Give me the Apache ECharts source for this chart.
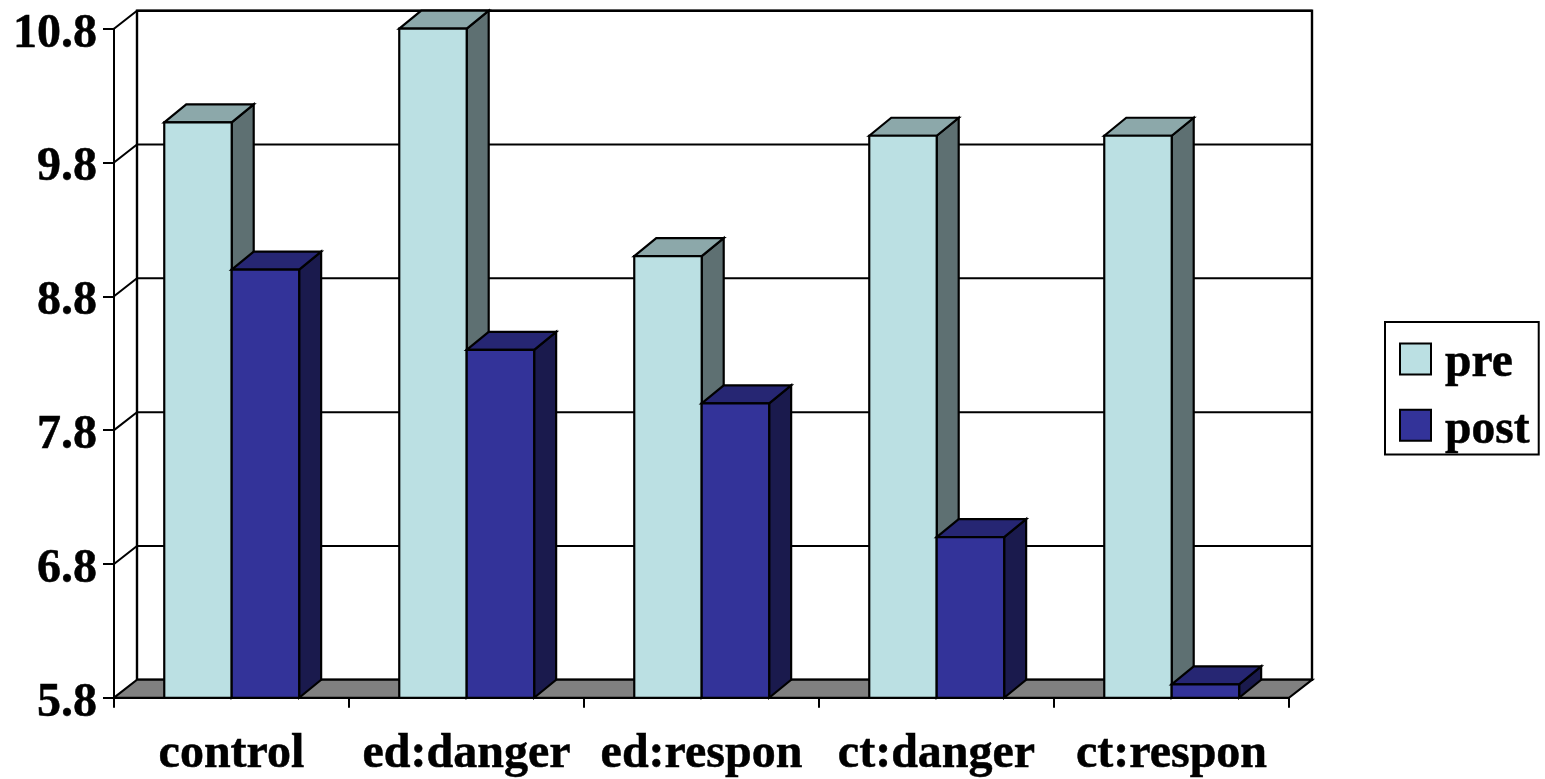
<!DOCTYPE html>
<html><head><meta charset="utf-8">
<style>html,body{margin:0;padding:0;background:#fff}#c{width:1545px;height:779px}</style>
<script src="https://cdn.jsdelivr.net/npm/echarts@6/dist/echarts.min.js"></script>
</head><body><div id="c"></div>
<script>
const categories = ['control','ed:danger','ed:respon','ct:danger','ct:respon'];
const preValues  = [10.1, 10.8, 9.1, 10.0, 10.0];
const postValues = [9.0, 8.4, 8.0, 7.0, 5.9];
const yTicks = [5.8, 6.8, 7.8, 8.8, 9.8, 10.8];

const DX = 23, DY = -18, BAR_DX = 22, FONT = '"Liberation Serif","Times New Roman",serif';
const BLACK = '#000';
const chart = echarts.init(document.getElementById('c'), null, {renderer:'canvas'});

const poly = (points, fill, lw) => ({
  type:'polygon', shape:{points},
  style:{fill, stroke:BLACK, lineWidth: lw===undefined?2.2:lw, lineJoin:'miter'}
});

function wallItem(params, api){
  const v = api.value(1);
  const band = api.size([1,0])[0];
  const p = api.coord([0, v]);
  const xL = p[0]-band/2, y = p[1];
  const xR = api.coord([categories.length-1, v])[0]+band/2;
  const children = [];
  if (params.dataIndex === 0){
    const top = api.coord([0, yTicks[yTicks.length-1]])[1];
    children.push(poly([[xL+DX,top+DY],[xR+DX,top+DY],[xR+DX,y+DY],[xL+DX,y+DY]],'#fff',2.4));
    children.push(poly([[xL,y],[xR,y],[xR+DX,y+DY],[xL+DX,y+DY]],'#808080',2.2));
  } else {
    children.push({type:'polyline',shape:{points:[[xL,y],[xL+DX,y+DY],[xR+DX,y+DY]]},
      style:{fill:'none',stroke:BLACK,lineWidth:2}});
  }
  return {type:'group',children};
}

function barRenderer(offset, front, top, side){
  return function(params, api){
    const c = api.coord([api.value(0), api.value(1)]);
    const base = api.coord([api.value(0), yTicks[0]])[1];
    const band = api.size([1,0])[0];
    const w = band*0.287;
    const x0 = c[0]+0.2+offset*w, x1 = x0+w, y = c[1];
    return {type:'group',children:[
      poly([[x1,y],[x1+BAR_DX,y+DY],[x1+BAR_DX,base+DY],[x1,base]],side),
      poly([[x0,y],[x0+BAR_DX,y+DY],[x1+BAR_DX,y+DY],[x1,y]],top),
      poly([[x0,y],[x1,y],[x1,base],[x0,base]],front)
    ]};
  };
}

const toData = arr => arr.map((v,i)=>[i,v]);

chart.setOption({
  animation:false,
  backgroundColor:'#fff',
  textStyle:{fontFamily:FONT},
  grid:{left:114, top:28.7, width:1175, height:670, containLabel:false},
  legend:{
    left:1385, top:322, orient:'vertical',
    padding:[8,9,0,14], itemGap:8, itemWidth:31, itemHeight:31,
    borderColor:BLACK, borderWidth:2, backgroundColor:'#fff',
    formatter:name=>'{a|'+name+'}',
    textStyle:{fontFamily:FONT,fontWeight:'bold',fontSize:47.5,color:BLACK,
      rich:{a:{fontFamily:FONT,fontWeight:'bold',fontSize:47.5,color:BLACK,lineHeight:40,padding:[10,0,0,9],
        textBorderColor:BLACK,textBorderWidth:0.5}}},
    data:[
      {name:'pre',icon:'rect',itemStyle:{color:'#BBE0E3',borderColor:BLACK,borderWidth:2}},
      {name:'post',icon:'rect',itemStyle:{color:'#333399',borderColor:BLACK,borderWidth:2}}
    ]
  },
  xAxis:{
    type:'category', data:categories, boundaryGap:true,
    axisLine:{show:true,lineStyle:{color:BLACK,width:2}},
    axisTick:{show:true,length:10,alignWithLabel:false,lineStyle:{color:BLACK,width:2}},
    axisLabel:{margin:33,interval:0,fontFamily:FONT,fontWeight:'bold',fontSize:48,color:BLACK,
      textBorderColor:BLACK,textBorderWidth:0.5},
    splitLine:{show:false}
  },
  yAxis:{
    type:'value', min:yTicks[0], max:yTicks[yTicks.length-1],
    axisLine:{show:true,onZero:false,lineStyle:{color:BLACK,width:2}},
    axisTick:{show:true,length:11,customValues:yTicks,lineStyle:{color:BLACK,width:2}},
    axisLabel:{margin:17,customValues:yTicks,fontFamily:FONT,fontWeight:'bold',fontSize:48,color:BLACK,
      verticalAlign:'top',lineHeight:11,textBorderColor:BLACK,textBorderWidth:0.5,
      formatter:v=>Number(v).toFixed(1)},
    splitLine:{show:false}
  },
  series:[
    {type:'custom',name:'walls',z:1,silent:true,renderItem:wallItem,clip:false,
     encode:{x:0,y:1},data:yTicks.map(v=>[0,v])},
    {type:'custom',name:'pre',z:3,renderItem:barRenderer(-1,'#BBE0E3','#8CA8AA','#5E7072'),clip:false,
     encode:{x:0,y:1},itemStyle:{color:'#BBE0E3'},data:toData(preValues)},
    {type:'custom',name:'post',z:4,renderItem:barRenderer(0,'#333399','#262673','#1A1A4D'),clip:false,
     encode:{x:0,y:1},itemStyle:{color:'#333399'},data:toData(postValues)}
  ]
});
</script></body></html>
